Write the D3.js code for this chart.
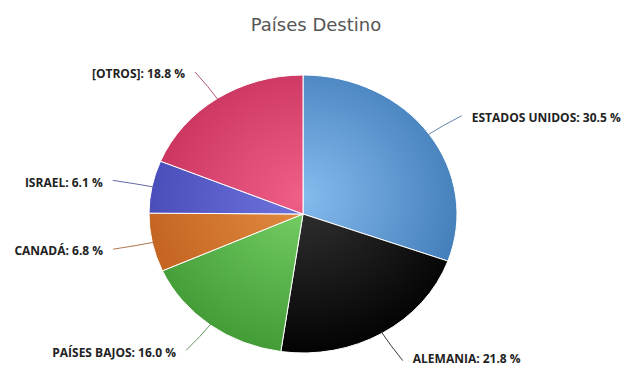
<!DOCTYPE html>
<html>
<head>
<meta charset="utf-8">
<script src="https://cdn.jsdelivr.net/npm/d3@7/dist/d3.min.js"></script>
<style>
html,body{margin:0;padding:0;background:#fff;}
svg{display:block;}
</style>
</head>
<body>
<svg id="chart" width="625" height="367"></svg>
<script>
const title = "Países Destino";
const categories = ["ESTADOS UNIDOS", "ALEMANIA", "PAÍSES BAJOS", "CANADÁ", "ISRAEL", "[OTROS]"];
const values = [30.5, 21.8, 16.0, 6.8, 6.1, 18.8];
const lightColors = ["#86bbee", "#333333", "#78d268", "#e38c42", "#7074dd", "#f05f88"];
const darkColors  = ["#3a76b3", "#000000", "#3f9833", "#bf5f1c", "#4246b2", "#c22c56"];

const W = 625, H = 367;
const cx = 303, cy = 214, R = 154, ky = 139 / 154;
const labelRX = 194, labelRY = 171;

const svg = d3.select("#chart");
const defs = svg.append("defs");

svg.append("text")
  .attr("x", 316).attr("y", 31)
  .attr("text-anchor", "middle")
  .attr("font-family", "'DejaVu Sans', sans-serif")
  .attr("font-size", 18)
  .attr("fill", "#555")
  .text(title);

const data = categories.map((c, i) => ({name: c, value: values[i], i}));

const pie = d3.pie().value(d => d.value).sort(null);
const arcs = pie(data);
const arc = d3.arc().innerRadius(0).outerRadius(R);

categories.forEach((c, i) => {
  const g = defs.append("radialGradient")
    .attr("id", "grad" + i)
    .attr("gradientUnits", "userSpaceOnUse")
    .attr("cx", 0).attr("cy", -20).attr("r", 185);
  g.append("stop").attr("offset", "0%").attr("stop-color", lightColors[i]);
  g.append("stop").attr("offset", "100%").attr("stop-color", darkColors[i]);
});

const pg = svg.append("g").attr("transform", `translate(${cx},${cy}) scale(1,${ky})`);
pg.selectAll("path.slice").data(arcs).enter().append("path")
  .attr("class", "slice")
  .attr("d", arc)
  .attr("fill", d => `url(#grad${d.index})`)
  .attr("stroke", "#ffffff")
  .attr("stroke-width", 1)
  .attr("vector-effect", "non-scaling-stroke");

function pt(a, rx, ry) {
  return [cx + rx * Math.sin(a), cy - ry * Math.cos(a)];
}

const lg = svg.append("g");
arcs.forEach(d => {
  const a = (d.startAngle + d.endAngle) / 2;
  const right = Math.sin(a) > 0;
  const e = pt(a, R - 2, (R - 2) * ky);
  const c1 = pt(a, R + 16, (R + 16) * ky);
  const end = pt(a, labelRX, labelRY);
  const ty = Math.min(end[1] + 2, 359);
  lg.append("path")
    .attr("d", `M${e[0]},${e[1]} Q${c1[0]},${c1[1]} ${end[0]},${end[1]}`)
    .attr("fill", "none")
    .attr("stroke", d3.interpolateRgb(darkColors[d.index], "#999")(0.4))
    .attr("stroke-width", 1);
  lg.append("text")
    .attr("x", end[0] + (right ? 10 : -10))
    .attr("y", ty)
    .attr("dy", "0.35em")
    .attr("text-anchor", right ? "start" : "end")
    .attr("font-family", "'Open Sans', sans-serif")
    .attr("font-weight", "bold")
    .attr("font-size", 12)
    .attr("fill", "#222")
    .text(`${d.data.name}: ${d.data.value.toFixed(1)} %`);
});
</script>
</body>
</html>
